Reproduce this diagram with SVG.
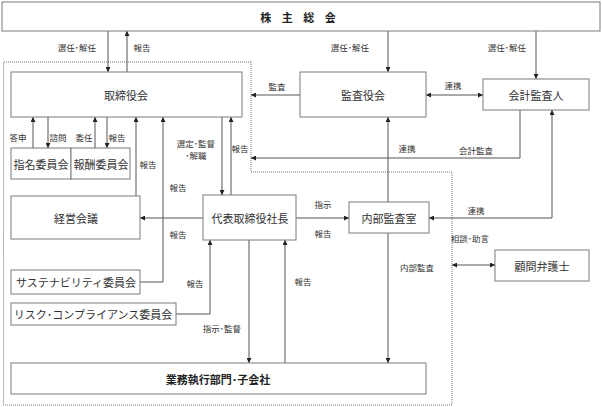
<svg xmlns="http://www.w3.org/2000/svg" width="602" height="407" viewBox="0 0 602 407">
<style>
.box{fill:#fff;stroke:#7a7a7a;stroke-width:1}
.nt{font-family:"Noto Sans CJK JP","Noto Sans CJK SC",sans-serif;font-size:11px;fill:#333;text-anchor:middle;dominant-baseline:central}
.bt{font-weight:bold;fill:#222}
.lb{font-family:"Noto Sans CJK JP","Noto Sans CJK SC",sans-serif;font-size:8.5px;fill:#333;text-anchor:middle;dominant-baseline:central}
.ln{fill:none;stroke:#555;stroke-width:1}
.dot{fill:none;stroke:#777;stroke-width:1;stroke-dasharray:1,1}
</style>
<defs>
<marker id="ah" viewBox="0 0 10 10" refX="10" refY="5" markerWidth="5" markerHeight="5" orient="auto-start-reverse" markerUnits="userSpaceOnUse">
<path d="M0,0 L10,5 L0,10 z" fill="#222"/>
</marker>
</defs>
<rect width="602" height="407" fill="#fff"/>
<g id="boundary">
<path class="dot" d="M251,62 H3.5 V405 H452 V172 H251 Z"/>
</g>
<g id="connectors">
<line class="ln" x1="108" y1="31" x2="108" y2="72" marker-end="url(#ah)"/>
<line class="ln" x1="127" y1="72" x2="127" y2="31" marker-end="url(#ah)"/>
<line class="ln" x1="388" y1="31" x2="388" y2="72" marker-end="url(#ah)"/>
<line class="ln" x1="536" y1="31" x2="536" y2="79" marker-end="url(#ah)"/>
<line class="ln" x1="300" y1="95" x2="251" y2="95" marker-end="url(#ah)"/>
<line class="ln" x1="426" y1="95" x2="483" y2="95" marker-start="url(#ah)" marker-end="url(#ah)"/>
<polyline class="ln" points="520,110 520,158 251,158" marker-end="url(#ah)"/>
<polyline class="ln" points="429,218 552,218 552,110" marker-start="url(#ah)" marker-end="url(#ah)"/>
<line class="ln" x1="388" y1="117" x2="388" y2="363" marker-start="url(#ah)" marker-end="url(#ah)"/>
<line class="ln" x1="33" y1="148" x2="33" y2="117" marker-end="url(#ah)"/>
<line class="ln" x1="48" y1="117" x2="48" y2="148" marker-end="url(#ah)"/>
<line class="ln" x1="95" y1="148" x2="95" y2="117" marker-end="url(#ah)"/>
<line class="ln" x1="107" y1="117" x2="107" y2="148" marker-end="url(#ah)"/>
<line class="ln" x1="136" y1="196" x2="136" y2="117" marker-end="url(#ah)"/>
<polyline class="ln" points="140,282 163,282 163,117" marker-end="url(#ah)"/>
<line class="ln" x1="222" y1="117" x2="222" y2="195" marker-end="url(#ah)"/>
<line class="ln" x1="231" y1="195" x2="231" y2="117" marker-end="url(#ah)"/>
<line class="ln" x1="203" y1="218" x2="140" y2="218" marker-end="url(#ah)"/>
<line class="ln" x1="296" y1="218" x2="349" y2="218" marker-end="url(#ah)"/>
<polyline class="ln" points="176,314 210,314 210,240" marker-end="url(#ah)"/>
<line class="ln" x1="249" y1="240" x2="249" y2="363" marker-end="url(#ah)"/>
<line class="ln" x1="285" y1="363" x2="285" y2="240" marker-end="url(#ah)"/>
<line class="ln" x1="452" y1="265" x2="495" y2="265" marker-start="url(#ah)" marker-end="url(#ah)"/>
</g>
<g id="labels">
<text class="lb" x="77" y="47">選任･解任</text>
<text class="lb" x="142" y="47">報告</text>
<text class="lb" x="350" y="47">選任･解任</text>
<text class="lb" x="507" y="47">選任･解任</text>
<text class="lb" x="277" y="86">監査</text>
<text class="lb" x="453" y="85">連携</text>
<text class="lb" x="476" y="150">会計監査</text>
<text class="lb" x="407" y="148">連携</text>
<text class="lb" x="18" y="137">答申</text>
<text class="lb" x="58" y="137">諮問</text>
<text class="lb" x="84" y="137">委任</text>
<text class="lb" x="117" y="137">報告</text>
<text class="lb" x="148" y="164">報告</text>
<text class="lb" x="196" y="143">選定･監督</text>
<text class="lb" x="196" y="155">･解職</text>
<text class="lb" x="240" y="148">報告</text>
<text class="lb" x="178" y="187">報告</text>
<text class="lb" x="178" y="234">報告</text>
<text class="lb" x="323" y="204">指示</text>
<text class="lb" x="323" y="233">報告</text>
<text class="lb" x="476" y="210">連携</text>
<text class="lb" x="470" y="238">相談･助言</text>
<text class="lb" x="417" y="267">内部監査</text>
<text class="lb" x="195" y="283">報告</text>
<text class="lb" x="303" y="281">報告</text>
<text class="lb" x="222" y="328">指示･監督</text>
</g>
<g id="shareholders"><rect class="box" x="2" y="2" width="598" height="29"/><text class="nt bt" x="300" y="17" letter-spacing="4">株 主 総 会</text></g>
<g id="board"><rect class="box" x="11" y="72" width="231" height="45"/><text class="nt" x="126" y="95">取締役会</text></g>
<g id="auditboard"><rect class="box" x="300" y="72" width="126" height="45"/><text class="nt" x="363" y="95">監査役会</text></g>
<g id="accountant"><rect class="box" x="483" y="79" width="106" height="31"/><text class="nt" x="536" y="95">会計監査人</text></g>
<g id="nomination"><rect class="box" x="11" y="148" width="60" height="31"/><text class="nt" x="41" y="164">指名委員会</text></g>
<g id="remuneration"><rect class="box" x="71" y="148" width="59" height="31"/><text class="nt" x="101" y="164">報酬委員会</text></g>
<g id="mgmtmeeting"><rect class="box" x="11" y="196" width="129" height="43"/><text class="nt" x="76" y="218">経営会議</text></g>
<g id="president"><rect class="box" x="203" y="195" width="93" height="45"/><text class="nt" x="250" y="218">代表取締役社長</text></g>
<g id="internalaudit"><rect class="box" x="349" y="202" width="80" height="31"/><text class="nt" x="389" y="218">内部監査室</text></g>
<g id="lawyer"><rect class="box" x="495" y="250" width="94" height="31"/><text class="nt" x="542" y="266">顧問弁護士</text></g>
<g id="sustainability"><rect class="box" x="11" y="270" width="129" height="24"/><text class="nt" x="76" y="282">サステナビリティ委員会</text></g>
<g id="risk"><rect class="box" x="11" y="303" width="165" height="22"/><text class="nt" x="93" y="314">リスク･コンプライアンス委員会</text></g>
<g id="business"><rect class="box" x="11" y="363" width="415" height="31"/><text class="nt bt" x="218" y="379">業務執行部門･子会社</text></g>
</svg>
